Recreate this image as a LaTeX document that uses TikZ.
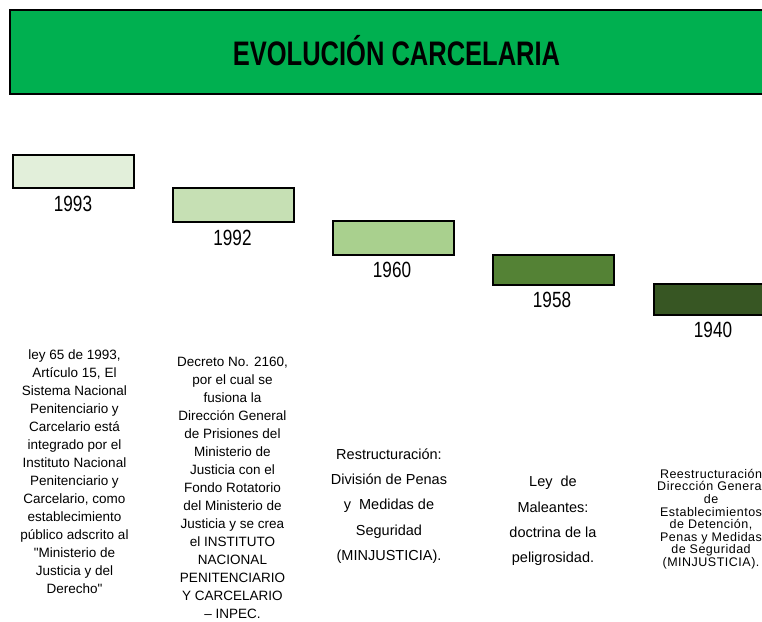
\documentclass[tikz,border=0pt]{standalone}
\usepackage{fontspec}
\setmainfont{Liberation Sans}
\newfontfamily\narrowfont[FakeStretch=0.78]{Liberation Sans}
\newfontfamily\titlefont[FakeStretch=0.75]{Liberation Sans}
\newfontfamily\spacedfont[LetterSpace=4]{Liberation Sans}
\newfontfamily\quotefont[Ligatures=ResetAll]{Liberation Sans}
\definecolor{titlegreen}{HTML}{00B050}
\definecolor{gA}{HTML}{E2EFDA}
\definecolor{gB}{HTML}{C6E0B4}
\definecolor{gC}{HTML}{A9D08E}
\definecolor{gD}{HTML}{548235}
\definecolor{gE}{HTML}{375623}
\newcommand{\sq}{{\quotefont"}}
\begin{document}
\begin{tikzpicture}[x=1pt,y=-1pt,
  yearbox/.style={draw=black,line width=1.8pt,minimum width=121pt,inner sep=0pt,anchor=north west},
  yearlabel/.style={font=\narrowfont\fontsize{22}{25}\selectfont,inner sep=0pt},
  descA/.style={align=center,inner sep=0pt,font=\fontsize{13.5}{18}\selectfont},
  descB/.style={align=center,inner sep=0pt,font=\fontsize{14.5}{25.2}\selectfont},
  descC/.style={align=center,inner sep=0pt,font=\spacedfont\fontsize{12.5}{12.6}\selectfont},
]
\useasboundingbox (0,0) rectangle (762,621);
\clip (0,0) rectangle (762,621);
\fill[white] (0,0) rectangle (762,621);

% title banner
\node[draw=black,line width=1.8pt,fill=titlegreen,anchor=north west,
      minimum width=780pt,minimum height=84pt,inner sep=0pt] (banner) at (9,9) {};
\node[font=\titlefont\bfseries\fontsize{34}{38}\selectfont,inner sep=0pt] (title) at (396.5,51) {EVOLUCIÓN CARCELARIA};

% year boxes
\node[yearbox,fill=gA,minimum height=33pt] (b1) at (12,154) {};
\node[yearbox,fill=gB,minimum height=34pt] (b2) at (172,187) {};
\node[yearbox,fill=gC,minimum height=34pt] (b3) at (332,220) {};
\node[yearbox,fill=gD,minimum height=30pt] (b4) at (492,254) {};
\node[yearbox,fill=gE,minimum height=31pt] (b5) at (653,283) {};

% year labels
\node[yearlabel] (y1) at (73,204) {1993};
\node[yearlabel] (y2) at (232.5,238) {1992};
\node[yearlabel] (y3) at (392,270) {1960};
\node[yearlabel] (y4) at (552,300) {1958};
\node[yearlabel] (y5) at (713,330) {1940};

% descriptions
\node[descA] (t1) at (74.5,472) {ley 65 de 1993,\\Artículo 15, El\\Sistema Nacional\\Penitenciario y\\Carcelario está\\integrado por el\\Instituto Nacional\\Penitenciario y\\Carcelario, como\\establecimiento\\público adscrito al\\\sq Ministerio de\\Justicia y del\\Derecho\sq};
\node[descA] (t2) at (232.5,488) {Decreto No. 2160,\\por el cual se\\fusiona la\\Dirección General\\de Prisiones del\\Ministerio de\\Justicia con el\\Fondo Rotatorio\\del Ministerio de\\Justicia y se crea\\el INSTITUTO\\NACIONAL\\PENITENCIARIO\\Y CARCELARIO\\– INPEC.};
\node[descB] (t3) at (389,506) {Restructuración:\\División de Penas\\y\ \ Medidas de\\Seguridad\\(MINJUSTICIA).};
\node[descB] (t4) at (553,521) {Ley\ \ de\\Maleantes:\\doctrina de la\\peligrosidad.};
\node[descC] (t5) at (711,519) {Reestructuración\\Dirección General\\de\\Establecimientos\\de Detención,\\Penas y Medidas\\de Seguridad\\(MINJUSTICIA).};
\end{tikzpicture}
\end{document}
